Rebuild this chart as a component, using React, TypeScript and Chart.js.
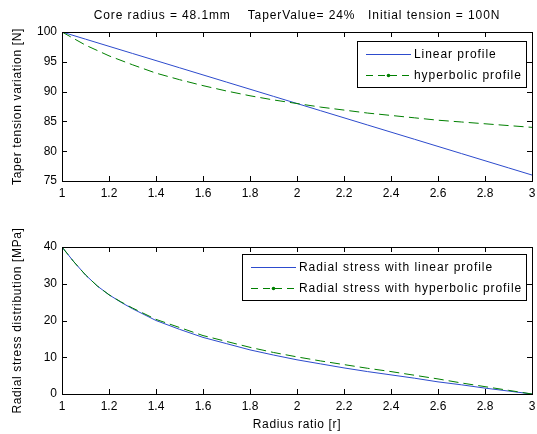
import React, { useEffect, useRef } from 'react';
import { Chart, registerables } from 'chart.js';

Chart.register(...registerables);

// ---------- data ----------
const xTicks = [1, 1.2, 1.4, 1.6, 1.8, 2, 2.2, 2.4, 2.6, 2.8, 3];
const xTickLabels = ['1', '1.2', '1.4', '1.6', '1.8', '2', '2.2', '2.4', '2.6', '2.8', '3'];

const topYTicks = [75, 80, 85, 90, 95, 100];
const topYTickLabels = ['75', '80', '85', '90', '95', '100'];
const bottomYTicks = [0, 10, 20, 30, 40];
const bottomYTickLabels = ['0', '10', '20', '30', '40'];

const tensionRadius = [1.0, 1.1, 1.2, 1.3, 1.4, 1.5, 1.6, 1.7, 1.8, 1.9, 2.0, 2.1, 2.2, 2.3, 2.4, 2.5, 2.6, 2.7, 2.8, 2.9, 3.0];
const tensionLinear = [100, 98.8, 97.6, 96.4, 95.2, 94.0, 92.8, 91.6, 90.4, 89.2, 88.0, 86.8, 85.6, 84.4, 83.2, 82.0, 80.8, 79.6, 78.4, 77.2, 76.0];
const tensionHyperbolic = [100, 97.8, 96.0, 94.5, 93.1, 92.0, 91.0, 90.1, 89.3, 88.6, 88.0, 87.4, 86.9, 86.4, 86.0, 85.6, 85.2, 84.9, 84.6, 84.3, 84.0];

const stressRadius = [1.0, 1.05, 1.1, 1.15, 1.2, 1.25, 1.3, 1.4, 1.5, 1.6, 1.7, 1.8, 1.9, 2.0, 2.1, 2.2, 2.3, 2.4, 2.5, 2.6, 2.7, 2.8, 2.9, 3.0];
const stressLinear = [40, 36.0, 32.4, 29.4, 27.0, 25.0, 23.2, 20.0, 17.6, 15.4, 13.7, 12.0, 10.6, 9.3, 8.2, 7.1, 6.1, 5.2, 4.3, 3.3, 2.5, 1.6, 0.8, 0.0];
const stressHyperbolic = [40, 36.0, 32.4, 29.4, 27.0, 25.1, 23.4, 20.3, 18.1, 15.9, 14.3, 12.7, 11.3, 10.1, 9.0, 8.0, 7.0, 6.1, 5.1, 4.1, 3.0, 2.0, 1.0, 0.0];

const topTitle = 'Core radius = 48.1mm    TaperValue= 24%   Initial tension = 100N';
const topYTitle = 'Taper tension variation [N]';
const bottomYTitle = 'Radial stress distribution [MPa]';
const bottomXTitle = 'Radius ratio [r]';
const topLegend = ['Linear profile', 'hyperbolic profile'];
const bottomLegend = ['Radial stress with linear profile', 'Radial stress with hyperbolic profile'];

// ---------- styles ----------
const FONT = '"Liberation Sans", Arial, Helvetica, sans-serif';
const BLUE = 'rgb(45,75,205)';
const GREEN = 'rgb(0,128,0)';
const DASH = [10, 5];

const matlabPlugin = {
  id: 'matlab',
  beforeDraw(chart: any) {
    const ctx = chart.ctx;
    ctx.save();
    ctx.fillStyle = '#fff';
    ctx.fillRect(0, 0, chart.width, chart.height);
    ctx.restore();
  },
  afterDatasetsDraw(chart: any, _args: any, opts: any) {
    const ctx = chart.ctx;
    const a = chart.chartArea;
    const xs = chart.scales.x;
    const ys = chart.scales.y;
    ctx.save();
    ctx.strokeStyle = '#000';
    ctx.lineWidth = 1;
    ctx.setLineDash([]);
    // box
    ctx.strokeRect(Math.round(a.left) + 0.5, Math.round(a.top) + 0.5, Math.round(a.right - a.left), Math.round(a.bottom - a.top));
    // inward ticks
    const TL = 5;
    ctx.beginPath();
    xs.ticks.forEach((t: any) => {
      const px = Math.round(xs.getPixelForValue(t.value)) + 0.5;
      ctx.moveTo(px, a.bottom);
      ctx.lineTo(px, a.bottom - TL);
      ctx.moveTo(px, a.top);
      ctx.lineTo(px, a.top + TL);
    });
    ys.ticks.forEach((t: any) => {
      const py = Math.round(ys.getPixelForValue(t.value)) + 0.5;
      ctx.moveTo(a.left, py);
      ctx.lineTo(a.left + TL, py);
      ctx.moveTo(a.right, py);
      ctx.lineTo(a.right - TL, py);
    });
    ctx.stroke();

    // legend
    const labels: string[] = opts.legend || [];
    const ds = chart.data.datasets;
    ctx.font = `12px ${FONT}`;
    (ctx as any).letterSpacing = '0.95px';
    let maxW = 0;
    labels.forEach((l) => { maxW = Math.max(maxW, ctx.measureText(l).width); });
    const boxW = Math.round(57 + maxW + 4);
    const boxH = 46;
    const bx = Math.round(a.right - 6 - boxW);
    const by = Math.round(a.top + opts.legendTop);
    ctx.fillStyle = '#fff';
    ctx.fillRect(bx, by, boxW, boxH);
    ctx.strokeStyle = '#000';
    ctx.strokeRect(bx + 0.5, by + 0.5, boxW, boxH);
    labels.forEach((l, i) => {
      const d = ds[i];
      const ry = by + 13.5 + i * 21;
      ctx.save();
      ctx.strokeStyle = d.borderColor;
      ctx.lineWidth = 1;
      ctx.setLineDash(d.borderDash ? [7, 5] : []);
      ctx.beginPath();
      ctx.moveTo(bx + 9, ry);
      ctx.lineTo(bx + 54, ry);
      ctx.stroke();
      if (d.borderDash) {
        ctx.fillStyle = d.borderColor;
        ctx.beginPath();
        ctx.arc(bx + 31.5, ry, 1.8, 0, Math.PI * 2);
        ctx.fill();
      }
      ctx.restore();
      ctx.fillStyle = '#000';
      ctx.textAlign = 'left';
      ctx.textBaseline = 'middle';
      ctx.fillText(l, bx + 57, ry);
    });
    ctx.restore();
  },
  afterDraw(chart: any, _args: any, opts: any) {
    const ctx = chart.ctx;
    const a = chart.chartArea;
    ctx.save();
    ctx.fillStyle = '#000';
    ctx.font = `12px ${FONT}`;
    ctx.textAlign = 'center';
    ctx.textBaseline = 'middle';
    const cx = (a.left + a.right) / 2;
    if (opts.title) {
      (ctx as any).letterSpacing = '0.9px';
      ctx.fillText(opts.title, cx, a.top - 16);
    }
    (ctx as any).letterSpacing = '0.65px';
    if (opts.xTitle) ctx.fillText(opts.xTitle, cx, a.bottom + 31);
    if (opts.yTitle) {
      ctx.save();
      ctx.translate(18, (a.top + a.bottom) / 2);
      ctx.rotate(-Math.PI / 2);
      ctx.fillText(opts.yTitle, 0, 0);
      ctx.restore();
    }
    ctx.restore();
  },
};

function buildConfig(
  radius: number[],
  linear: number[],
  hyper: number[],
  yMin: number,
  yMax: number,
  yTicks: number[],
  yLabels: string[],
  legend: string[],
  xAxisHeight: number,
  extra: any
): any {
  return {
    type: 'line',
    data: {
      datasets: [
        {
          label: legend[0],
          data: radius.map((r, i) => ({ x: r, y: linear[i] })),
          borderColor: BLUE,
          borderWidth: 1,
          pointRadius: 0,
          tension: 0,
          fill: false,
          order: 1,
        },
        {
          label: legend[1],
          data: radius.map((r, i) => ({ x: r, y: hyper[i] })),
          borderColor: GREEN,
          borderWidth: 1,
          borderDash: DASH,
          pointRadius: 0,
          tension: 0,
          fill: false,
          order: 0,
        },
      ],
    },
    options: {
      animation: false,
      responsive: false,
      devicePixelRatio: 1,
      layout: { padding: { top: 32, left: 0, right: 5, bottom: 0 } },
      plugins: {
        legend: { display: false },
        tooltip: { enabled: false },
        title: { display: false },
        matlab: { legend, ...extra },
      },
      scales: {
        x: {
          type: 'linear',
          min: 1,
          max: 3,
          afterBuildTicks: (s: any) => {
            s.ticks = xTicks.map((v) => ({ value: v }));
          },
          afterFit: (s: any) => {
            s.height = xAxisHeight;
            s.paddingLeft = 0;
            s.paddingRight = 0;
          },
          ticks: {
            autoSkip: false,
            maxRotation: 0,
            padding: 5,
            color: '#000',
            font: { family: FONT, size: 12 },
            callback: (_v: any, i: number) => xTickLabels[i],
          },
          grid: { display: false, drawTicks: false },
          border: { display: false },
        },
        y: {
          type: 'linear',
          min: yMin,
          max: yMax,
          afterBuildTicks: (s: any) => {
            s.ticks = yTicks.map((v) => ({ value: v }));
          },
          afterFit: (s: any) => {
            s.width = 62;
            s.paddingTop = 0;
            s.paddingBottom = 0;
          },
          ticks: {
            autoSkip: false,
            padding: 5,
            color: '#000',
            font: { family: FONT, size: 12 },
            callback: (_v: any, i: number) => yLabels[i],
          },
          grid: { display: false, drawTicks: false },
          border: { display: false },
        },
      },
    },
    plugins: [matlabPlugin],
  };
}

export default function App() {
  const topRef = useRef<HTMLCanvasElement | null>(null);
  const bottomRef = useRef<HTMLCanvasElement | null>(null);

  useEffect(() => {
    const top = new Chart(
      topRef.current as HTMLCanvasElement,
      buildConfig(tensionRadius, tensionLinear, tensionHyperbolic, 75, 100, topYTicks, topYTickLabels, topLegend, 34, {
        title: topTitle,
        yTitle: topYTitle,
        legendTop: 9,
      })
    );
    const bottom = new Chart(
      bottomRef.current as HTMLCanvasElement,
      buildConfig(stressRadius, stressLinear, stressHyperbolic, 0, 40, bottomYTicks, bottomYTickLabels, bottomLegend, 40, {
        yTitle: bottomYTitle,
        xTitle: bottomXTitle,
        legendTop: 7,
      })
    );
    return () => {
      top.destroy();
      bottom.destroy();
    };
  }, []);

  return (
    <div style={{ position: 'fixed', left: 0, top: 0, width: 537, height: 434, background: '#fff' }}>
      <canvas ref={topRef} width={537} height={215} style={{ position: 'absolute', left: 0, top: 0, width: 537, height: 215 }} />
      <canvas ref={bottomRef} width={537} height={219} style={{ position: 'absolute', left: 0, top: 215, width: 537, height: 219 }} />
    </div>
  );
}
